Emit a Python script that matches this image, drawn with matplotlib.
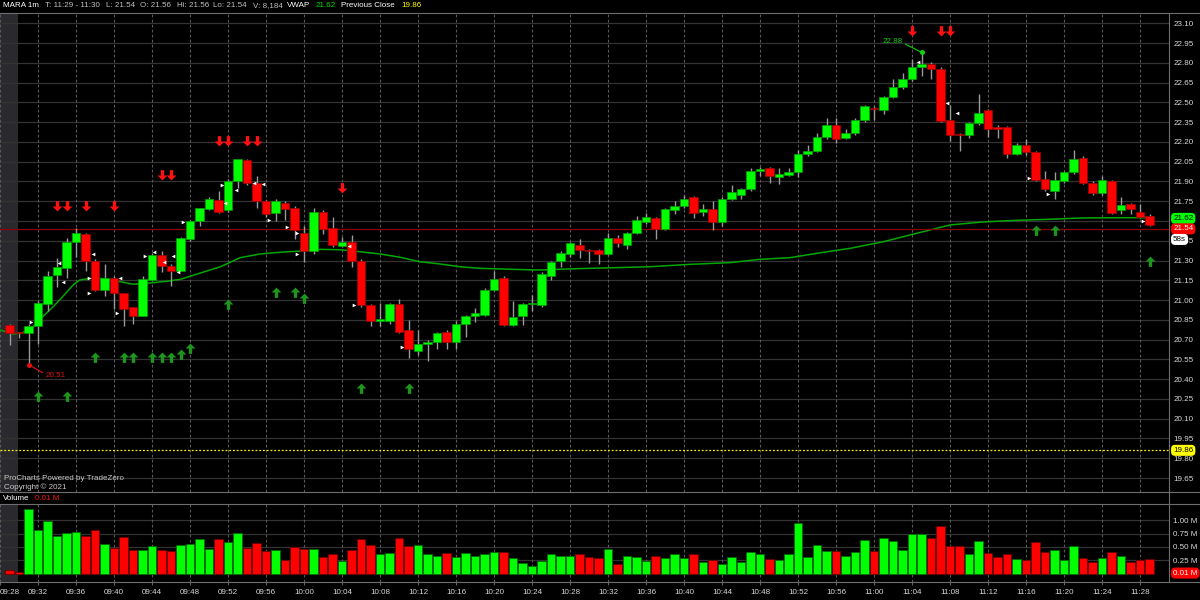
import numpy as np
import matplotlib.pyplot as plt
from matplotlib.lines import Line2D

plt.rcParams['font.family'] = ['Liberation Sans', 'DejaVu Sans']

# ---- data (minute index: 0 = 09:28, 1 = 09:29 ... 121 = 11:29) ----
opens = [20.81, 20.76, 20.75, 20.80, 20.97, 21.19, 21.24, 21.44, 21.50, 21.30,
         21.08, 21.17, 21.05, 20.95, 20.88, 21.15, 21.34, 21.26, 21.22, 21.46,
         21.60, 21.69, 21.76, 21.68, 21.90, 22.06, 21.89, 21.75, 21.66, 21.74,
         21.70, 21.51, 21.37, 21.67, 21.55, 21.41, 21.44, 21.30, 20.96, 20.84,
         20.84, 20.97, 20.77, 20.61, 20.67, 20.68, 20.76, 20.68, 20.82, 20.88,
         20.89, 21.08, 21.17, 20.81, 20.88, 20.97, 20.96, 21.18, 21.30, 21.35,
         21.42, 21.38, 21.38, 21.35, 21.47, 21.42, 21.51, 21.59, 21.62, 21.54,
         21.68, 21.71, 21.78, 21.67, 21.69, 21.59, 21.77, 21.80, 21.84, 21.98,
         22.00, 21.93, 21.95, 21.97, 22.11, 22.13, 22.24, 22.33, 22.23, 22.27,
         22.37, 22.46, 22.44, 22.54, 22.62, 22.68, 22.77, 22.79, 22.75, 22.37,
         22.26, 22.25, 22.34, 22.44, 22.31, 22.31, 22.11, 22.18, 22.12, 21.92,
         21.83, 21.90, 21.97, 22.08, 21.89, 21.81, 21.90, 21.68, 21.73, 21.67,
         21.64]
highs = [20.82, 20.76, 20.82, 20.99, 21.22, 21.32, 21.47, 21.55, 21.51, 21.31,
         21.27, 21.18, 21.05, 20.95, 21.18, 21.36, 21.37, 21.27, 21.48, 21.61,
         21.70, 21.78, 21.83, 21.92, 22.07, 22.07, 21.94, 21.76, 21.77, 21.75,
         21.71, 21.56, 21.70, 21.68, 21.63, 21.48, 21.49, 21.31, 20.97, 20.98,
         20.98, 21.01, 20.85, 20.77, 20.70, 20.76, 20.77, 20.84, 20.89, 20.94,
         21.09, 21.22, 21.18, 20.99, 20.98, 21.04, 21.21, 21.30, 21.37, 21.44,
         21.46, 21.39, 21.39, 21.51, 21.49, 21.52, 21.64, 21.66, 21.63, 21.70,
         21.75, 21.80, 21.79, 21.73, 21.75, 21.78, 21.87, 21.85, 22.00, 22.01,
         22.01, 22.00, 22.00, 22.14, 22.18, 22.27, 22.38, 22.38, 22.30, 22.38,
         22.48, 22.47, 22.55, 22.68, 22.72, 22.83, 22.88, 22.81, 22.77, 22.48,
         22.27, 22.35, 22.56, 22.45, 22.33, 22.32, 22.19, 22.22, 22.13, 21.98,
         21.97, 21.98, 22.14, 22.09, 21.90, 21.94, 21.91, 21.78, 21.74, 21.73,
         21.65]
lows = [20.66, 20.71, 20.51, 20.67, 20.92, 21.10, 21.17, 21.33, 21.22, 21.07,
        21.03, 20.93, 20.80, 20.82, 20.88, 21.15, 21.21, 21.11, 21.22, 21.45,
        21.56, 21.68, 21.66, 21.67, 21.85, 21.87, 21.70, 21.63, 21.60, 21.61,
        21.46, 21.29, 21.35, 21.50, 21.40, 21.40, 21.25, 20.95, 20.80, 20.80,
        20.82, 20.75, 20.56, 20.58, 20.54, 20.63, 20.63, 20.63, 20.72, 20.83,
        20.88, 21.07, 20.80, 20.80, 20.81, 20.92, 20.95, 21.15, 21.25, 21.33,
        21.32, 21.28, 21.27, 21.34, 21.40, 21.39, 21.50, 21.58, 21.46, 21.53,
        21.65, 21.70, 21.62, 21.64, 21.53, 21.56, 21.76, 21.77, 21.83, 21.94,
        21.89, 21.88, 21.94, 21.93, 22.09, 22.12, 22.22, 22.19, 22.22, 22.25,
        22.35, 22.37, 22.41, 22.53, 22.60, 22.66, 22.70, 22.68, 22.35, 22.21,
        22.13, 22.23, 22.33, 22.24, 22.23, 22.08, 22.10, 22.10, 21.90, 21.83,
        21.77, 21.89, 21.96, 21.88, 21.80, 21.80, 21.65, 21.65, 21.65, 21.62,
        21.56]
closes = [20.75, 20.75, 20.80, 20.98, 21.18, 21.25, 21.44, 21.51, 21.30, 21.08,
          21.17, 21.05, 20.93, 20.88, 21.16, 21.34, 21.26, 21.22, 21.47, 21.60,
          21.70, 21.77, 21.67, 21.90, 22.07, 21.89, 21.75, 21.65, 21.75, 21.69,
          21.53, 21.37, 21.67, 21.54, 21.42, 21.44, 21.30, 20.96, 20.84, 20.86,
          20.97, 20.76, 20.63, 20.67, 20.68, 20.75, 20.68, 20.82, 20.88, 20.90,
          21.08, 21.16, 20.81, 20.87, 20.97, 20.98, 21.20, 21.29, 21.36, 21.43,
          21.38, 21.37, 21.35, 21.47, 21.43, 21.51, 21.61, 21.63, 21.54, 21.69,
          21.71, 21.77, 21.66, 21.69, 21.59, 21.77, 21.82, 21.84, 21.98, 21.99,
          21.94, 21.96, 21.97, 22.11, 22.13, 22.24, 22.33, 22.22, 22.27, 22.37,
          22.47, 22.45, 22.54, 22.62, 22.68, 22.77, 22.79, 22.75, 22.36, 22.25,
          22.25, 22.34, 22.42, 22.30, 22.30, 22.11, 22.18, 22.12, 21.91, 21.84,
          21.91, 21.97, 22.07, 21.89, 21.81, 21.91, 21.66, 21.72, 21.69, 21.63,
          21.57]
volumes = [0.06, 0.03, 1.21, 0.81, 0.99, 0.71, 0.76, 0.79, 0.71, 0.81,
           0.56, 0.475, 0.69, 0.44, 0.44, 0.51, 0.44, 0.425, 0.54, 0.56,
           0.65, 0.46, 0.65, 0.60, 0.76, 0.475, 0.58, 0.425, 0.45, 0.26,
           0.50, 0.46, 0.46, 0.31, 0.375, 0.23, 0.44, 0.65, 0.54, 0.375,
           0.39, 0.675, 0.525, 0.54, 0.36, 0.34, 0.39, 0.32, 0.39, 0.33,
           0.37, 0.41, 0.41, 0.29, 0.19, 0.14, 0.23, 0.36, 0.33, 0.33,
           0.36, 0.32, 0.30, 0.47, 0.18, 0.33, 0.32, 0.23, 0.33, 0.30,
           0.37, 0.30, 0.37, 0.21, 0.26, 0.18, 0.32, 0.225, 0.40, 0.375,
           0.28, 0.26, 0.375, 0.96, 0.32, 0.54, 0.425, 0.425, 0.34, 0.41,
           0.63, 0.425, 0.66, 0.62, 0.45, 0.74, 0.74, 0.66, 0.90, 0.51,
           0.52, 0.36, 0.62, 0.39, 0.31, 0.37, 0.275, 0.26, 0.59, 0.41,
           0.45, 0.25, 0.52, 0.29, 0.21, 0.29, 0.41, 0.33, 0.225, 0.25,
           0.28]
minutes = list(range(1, len(opens) + 1))

vwap_idx = [0, 1.4, 2.4, 3.5, 4.5, 5.6, 6.6, 7.7, 8.4, 9.5, 10.5, 12.3, 14, 16.1,
            17.6, 19, 21, 23.2, 25.3, 27.4, 29.5, 31.6, 33.7, 35.8, 37.9, 40,
            42.1, 44.2, 46.3, 48.4, 50.5, 53.7, 56.8, 58.9, 62.1, 66.3, 68.4,
            72.6, 76.8, 80, 83.2, 86, 89.5, 93, 96.5, 100, 103.5, 107, 110.5,
            114, 117.6, 121]
vwap_px = [20.773, 20.743, 20.753, 20.798, 20.874, 20.95, 21.026, 21.115, 21.152,
           21.165, 21.165, 21.145, 21.12, 21.132, 21.143, 21.158, 21.203, 21.253,
           21.322, 21.35, 21.363, 21.372, 21.385, 21.382, 21.367, 21.35, 21.325,
           21.291, 21.274, 21.253, 21.241, 21.234, 21.228, 21.234, 21.241, 21.249,
           21.253, 21.271, 21.284, 21.309, 21.322, 21.355, 21.393, 21.443, 21.507,
           21.57, 21.593, 21.605, 21.613, 21.623, 21.625, 21.625]

down_arrow_idx = [6, 7, 9, 12, 17, 18, 23, 24, 26, 27, 36, 96, 99, 100]
down_arrow_px = [21.71, 21.71, 21.71, 21.71, 21.95, 21.95, 22.21, 22.21, 22.21,
                 22.21, 21.85, 23.04, 23.04, 23.04]
up_arrow_idx = [4, 7, 10, 13, 14, 16, 17, 18, 19, 20, 24, 29, 31, 32, 38, 43,
                109, 111, 121]
up_arrow_px = [20.27, 20.27, 20.565, 20.565, 20.565, 20.565, 20.565, 20.565,
               20.59, 20.64, 20.97, 21.058, 21.058, 21.016, 20.33, 20.33,
               21.535, 21.535, 21.30]

tri_right_idx = [3.26, 9.34, 9.34, 12.28, 15.26, 19.23, 23.34, 28.28, 30.24,
                 31.23, 31.29, 37.23, 42.28, 108.3, 110.35, 120.35]
tri_right_px = [20.831, 21.165, 21.051, 20.90, 21.334, 21.595, 21.873, 21.608,
                21.552, 21.507, 21.35, 20.96, 20.646, 21.924, 21.805, 21.602]
tri_left_idx = [6.24, 6.66, 9.76, 12.63, 16.24, 17.26, 18.24, 18.71, 23.68,
                24.81, 26.74, 27.72, 36.71, 96.66, 99.72, 100.77]
tri_left_px = [21.279, 21.14, 21.347, 21.165, 21.367, 21.291, 21.334, 21.215,
               21.734, 21.835, 21.891, 21.881, 21.41, 22.809, 22.493, 22.417]

# 21.60 sits under the price tags in the reference, so it is not labelled
price_ticks = [19.65, 19.80, 19.95, 20.10, 20.25, 20.40, 20.55, 20.70, 20.85,
               21.00, 21.15, 21.30, 21.45, 21.60, 21.75, 21.90, 22.05, 22.20,
               22.35, 22.50, 22.65, 22.80, 22.95, 23.10]
hidden_ticks = [21.60]
vol_ticks = [0.25, 0.50, 0.75, 1.00]
time_idx = list(range(0, 121, 4))
time_labels = ['09:28', '09:32', '09:36', '09:40', '09:44', '09:48', '09:52',
               '09:56', '10:00', '10:04', '10:08', '10:12', '10:16', '10:20',
               '10:24', '10:28', '10:32', '10:36', '10:40', '10:44', '10:48',
               '10:52', '10:56', '11:00', '11:04', '11:08', '11:12', '11:16',
               '11:20', '11:24', '11:28']

last_px = 21.54
vwap_last = 21.62
prev_close = 19.86
low_mark = (3, 20.51)
high_mark = (97, 22.88)

# ---- styling ----
W, H = 1200, 600
BG = '#000000'
GREEN, RED = '#00ff00', '#ff0000'
GRID = '#333333'
VGRID = '#5a5a5a'
SEP = '#6e6e6e'
TXT = '#d8d8d8'
FS = 5.8
PRE_END = 1.93          # pre-market shading ends here (minute index)
X_LIM = (0, 1169 / 9.5)

fig = plt.figure(figsize=(W / 100, H / 100), dpi=100, facecolor=BG)


def px_axes(x0, y0, x1, y1):
    return fig.add_axes([x0 / W, 1 - y1 / H, (x1 - x0) / W, (y1 - y0) / H])


ax = px_axes(0, 13, 1169, 492)
axv = px_axes(0, 504, 1169, 582)

for a in (ax, axv):
    a.set_facecolor(BG)
    for s in a.spines.values():
        s.set_visible(False)
    a.set_xlim(*X_LIM)
    a.axvspan(0, PRE_END, color='#2a2a2e', zorder=0, lw=0)
    for t in time_idx:
        a.axvline(t, color=VGRID, lw=0.8, ls=(0, (2.5, 2)), zorder=0.5)
    a.yaxis.tick_right()
    a.tick_params(axis='y', length=0, pad=3, labelsize=FS, labelcolor=TXT)

# price panel
ax.set_ylim(19.544, 23.178)
ax.set_yticks(price_ticks)
ax.set_yticklabels(['' if p in hidden_ticks else f'{p:.2f}' for p in price_ticks])
ax.set_xticks([])
for p in price_ticks:
    ax.axhline(p, color=GRID, lw=0.9, zorder=0.4)

o = np.array(opens); c = np.array(closes)
up = c >= o
cols = np.where(up, GREEN, RED)
edges = np.where(up, '#00a000', '#a00000')
ax.vlines(minutes, lows, highs, color='#9a9a9a', lw=1, zorder=2)
body = np.maximum(np.abs(c - o), 0.011)
ax.bar(minutes, body, bottom=np.minimum(o, c), width=0.86, color=cols,
       edgecolor=edges, linewidth=0.5, zorder=3)

ax.plot(vwap_idx, vwap_px, color='#00a800', lw=1.1, zorder=1.5)
ax.axhline(last_px, color='#8b0000', lw=0.9, zorder=1.6)
ax.axhline(prev_close, color='#f0f000', lw=0.9, ls=(0, (1.5, 1.5)), zorder=1.6)

down_verts = [(-0.17, 0.55), (0.17, 0.55), (0.17, 0.0), (0.5, 0.0), (0.0, -0.5),
              (-0.5, 0.0), (-0.17, 0.0), (-0.17, 0.55)]
up_verts = [(x, -y) for x, y in down_verts]
ax.scatter(down_arrow_idx, down_arrow_px, marker=down_verts, s=60,
           color='#ff1010', lw=0, zorder=4)
ax.scatter(up_arrow_idx, up_arrow_px, marker=up_verts, s=60,
           color='#1e961e', lw=0, zorder=4)
ax.scatter(tri_right_idx, tri_right_px, marker='>', s=7, color='white', lw=0, zorder=4)
ax.scatter(tri_left_idx, tri_left_px, marker='<', s=7, color='white', lw=0, zorder=4)

ax.plot(*low_mark, 'o', ms=2.6, color='#e01010', zorder=5)
ax.annotate(f'{low_mark[1]:.2f}', xy=low_mark, xytext=(17, -11),
            textcoords='offset pixels', color='#e01010', fontsize=FS,
            ha='left', va='center', zorder=5,
            arrowprops=dict(arrowstyle='-', color='#e01010', lw=0.8,
                            shrinkA=0, shrinkB=0, relpos=(0, 0.7)))
ax.plot(*high_mark, 'o', ms=2.6, color='#10d010', zorder=5)
ax.annotate(f'{high_mark[1]:.2f}', xy=high_mark, xytext=(-19, 11),
            textcoords='offset pixels', color='#10d010', fontsize=FS,
            ha='right', va='center', zorder=5,
            arrowprops=dict(arrowstyle='-', color='#10d010', lw=0.8,
                            shrinkA=0, shrinkB=0, relpos=(1, 0.3)))

ax.text(4 / 1169, 1 - (478 - 13) / 479, 'ProCharts Powered by TradeZero',
        transform=ax.transAxes, fontsize=FS, color='#c8c8c8', va='center')
ax.text(4 / 1169, 1 - (487 - 13) / 479, 'Copyright \u00a9 2021',
        transform=ax.transAxes, fontsize=FS, color='#c8c8c8', va='center')


def tag(a, y, txt, fc, tc):
    a.text(1.0035, y, txt, transform=a.get_yaxis_transform(), ha='left',
           va='center', fontsize=FS, color=tc, clip_on=False, zorder=10,
           bbox=dict(boxstyle='round,pad=0.25,rounding_size=0.5', fc=fc, ec='none'))


tag(ax, vwap_last, f'{vwap_last:.2f}', '#00ff00', 'black')
tag(ax, last_px, f'{last_px:.2f}', '#ff0000', 'white')
tag(ax, 21.46, '58s', 'white', 'black')
tag(ax, prev_close, f'{prev_close:.2f}', '#ffff00', 'black')

# volume panel
axv.set_ylim(-0.158, 1.308)
axv.set_yticks(vol_ticks)
axv.set_yticklabels([f'{v:.2f} M' for v in vol_ticks])
for v in vol_ticks:
    axv.axhline(v, color=GRID, lw=0.9, zorder=0.4)
vedges = np.where(up, '#006a00', '#6a0000')
axv.bar(minutes, volumes, width=0.9, color=cols, edgecolor=vedges,
        linewidth=0.6, zorder=3)
tag(axv, 0.01, '0.01 M', '#ff0000', 'white')

axv.set_xticks(time_idx)
axv.set_xticklabels(time_labels)
axv.tick_params(axis='x', length=2.5, width=0.6, color='#777777', pad=2.5,
                labelsize=FS, labelcolor=TXT)
axv.get_xticklabels()[0].set_horizontalalignment('left')

# separators
for y in (13, 492, 504, 582):
    fig.add_artist(Line2D([0, 1], [1 - y / H] * 2, color=SEP, lw=0.8))
fig.add_artist(Line2D([1169 / W] * 2, [1 - 582 / H, 1 - 13 / H], color=SEP, lw=0.8))

# header
def ftxt(x, y, s, color):
    fig.text(x / W, 1 - y / H, s, color=color, fontsize=FS, va='center', ha='left')


hdr = [(3, 'MARA 1m', 'white'), (45, 'T: 11:29 - 11:30', '#c0c0c0'),
       (106, 'L: 21.54', '#c0c0c0'), (140, 'O: 21.56', '#c0c0c0'),
       (177, 'Hi: 21.56', '#c0c0c0'), (213, 'Lo: 21.54', '#c0c0c0'),
       (253, 'V: 8,184', '#c0c0c0'), (287, 'VWAP', 'white'),
       (316, f'{vwap_last:.2f}', '#00e000'), (341, 'Previous Close', 'white'),
       (401, f'{prev_close:.2f}', '#ffff00')]
for x, s, col in hdr:
    ftxt(x, 5.8, s, col)
ftxt(3, 498, 'Volume', 'white')
ftxt(35, 498, '0.01 M', '#ff1010')

fig.savefig('out.png', dpi=100, facecolor=BG)
